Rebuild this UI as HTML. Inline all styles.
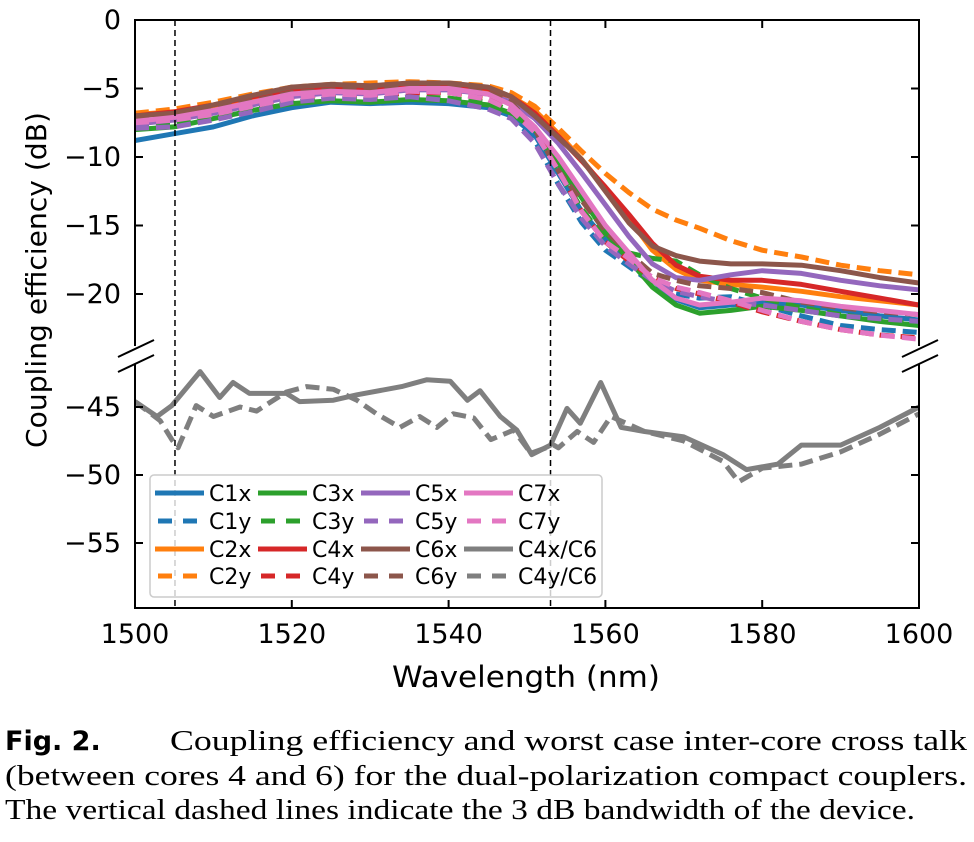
<!DOCTYPE html>
<html><head><meta charset="utf-8"><style>
html,body{margin:0;padding:0;background:#fff;}
svg{display:block;}
text{font-family:"DejaVu Sans","Liberation Sans",sans-serif;}
.cap{font-family:"Liberation Serif",serif;font-size:28px;}
</style></head><body>
<svg id="chart" width="974" height="842" viewBox="0 0 974 842" xmlns="http://www.w3.org/2000/svg">
<defs>
<clipPath id="clipTop"><rect x="135" y="20" width="784" height="326"/></clipPath>
<clipPath id="clipBot"><rect x="135" y="365" width="784" height="243"/></clipPath>
</defs>
<g id="gTop" clip-path="url(#clipTop)"></g>
<g id="gBot" clip-path="url(#clipBot)"></g>
<g id="axes"></g>
<g id="legend"></g>
<text x="526" y="687" font-size="29" text-anchor="middle" textLength="268" lengthAdjust="spacingAndGlyphs">Wavelength (nm)</text>
<text transform="translate(46,280) rotate(-90)" font-size="28" text-anchor="middle" textLength="336" lengthAdjust="spacingAndGlyphs">Coupling efficiency (dB)</text>
<g>
<text x="5" y="750" font-size="27" font-weight="bold" font-family="Liberation Sans, sans-serif">Fig. 2.</text>
<text class="cap" x="170" y="750" textLength="797" lengthAdjust="spacingAndGlyphs">Coupling efficiency and worst case inter-core cross talk</text>
<text class="cap" x="5" y="785" textLength="962" lengthAdjust="spacingAndGlyphs">(between cores 4 and 6) for the dual-polarization compact couplers.</text>
<text class="cap" x="5" y="819" textLength="910" lengthAdjust="spacingAndGlyphs">The vertical dashed lines indicate the 3 dB bandwidth of the device.</text>
</g>
</svg>
<script>
const wavelengths=[1500,1505,1510,1515,1520,1525,1530,1535,1540,1545,1548,1551,1554,1557,1560,1563,1566,1569,1572,1576,1580,1585,1590,1595,1600];
const c1x=[-8.8,-8.3,-7.8,-7.0,-6.4,-6.0,-6.1,-6.0,-6.1,-6.4,-7.0,-8.4,-11.2,-14.0,-16.0,-17.5,-19.0,-20.4,-21.0,-20.8,-20.6,-20.8,-21.2,-21.6,-21.9];
const c1y=[-7.6,-7.6,-7.2,-6.6,-6.0,-5.7,-5.9,-5.7,-5.8,-6.2,-7.0,-8.8,-12.0,-14.8,-16.8,-18.0,-19.2,-20.0,-20.3,-20.2,-20.8,-21.6,-22.3,-22.6,-22.8];
const c2x=[-6.9,-6.7,-6.3,-5.8,-5.3,-5.1,-5.2,-5.0,-4.9,-5.1,-5.6,-6.6,-8.3,-10.2,-12.3,-14.5,-16.8,-18.2,-19.0,-19.3,-19.5,-19.8,-20.2,-20.5,-20.8];
const c2y=[-6.8,-6.5,-6.0,-5.4,-4.9,-4.7,-4.6,-4.5,-4.6,-4.8,-5.3,-6.3,-7.9,-9.6,-11.2,-12.6,-13.8,-14.6,-15.2,-16.1,-16.8,-17.3,-17.9,-18.3,-18.6];
const c3x=[-8.0,-7.8,-7.2,-6.6,-6.1,-5.9,-6.0,-5.8,-5.9,-6.2,-6.8,-8.0,-10.5,-13.0,-15.5,-17.5,-19.5,-20.8,-21.4,-21.2,-20.9,-21.2,-21.6,-22.0,-22.3];
const c3y=[-7.8,-7.6,-7.0,-6.5,-6.0,-5.7,-5.8,-5.6,-5.7,-6.0,-6.6,-8.0,-11.0,-13.8,-16.0,-17.0,-17.4,-17.6,-18.6,-19.6,-20.3,-21.0,-21.5,-21.9,-22.2];
const c4x=[-7.0,-6.7,-6.2,-5.6,-5.1,-4.9,-5.0,-4.8,-4.7,-5.0,-5.6,-6.8,-8.5,-10.3,-12.2,-14.2,-16.3,-17.9,-18.7,-19.0,-19.0,-19.3,-19.8,-20.3,-20.8];
const c4y=[-7.3,-7.2,-6.8,-6.2,-5.7,-5.4,-5.5,-5.3,-5.3,-5.7,-6.4,-8.0,-11.0,-14.0,-16.2,-17.6,-18.8,-19.6,-20.0,-20.6,-21.3,-22.0,-22.6,-23.0,-23.2];
const c5x=[-7.6,-7.3,-6.8,-6.2,-5.6,-5.3,-5.4,-5.1,-5.1,-5.4,-6.0,-7.2,-9.0,-11.2,-13.5,-15.8,-17.8,-18.8,-19.0,-18.6,-18.3,-18.5,-19.0,-19.4,-19.7];
const c5y=[-7.9,-7.8,-7.3,-6.7,-6.0,-5.7,-5.8,-5.6,-5.9,-6.5,-7.2,-9.0,-12.0,-14.5,-16.5,-17.8,-19.0,-19.8,-20.2,-20.6,-20.8,-21.2,-21.6,-21.8,-22.0];
const c6x=[-7.0,-6.8,-6.2,-5.5,-4.9,-4.7,-4.8,-4.6,-4.6,-4.9,-5.6,-7.0,-8.6,-10.2,-12.5,-14.8,-16.5,-17.2,-17.6,-17.8,-17.8,-17.9,-18.3,-18.8,-19.2];
const c6y=[-7.2,-7.0,-6.5,-5.9,-5.3,-5.1,-5.1,-4.9,-4.9,-5.3,-6.0,-8.0,-11.0,-13.2,-15.4,-17.0,-18.5,-19.0,-19.4,-19.6,-19.9,-20.6,-21.0,-21.3,-21.5];
const c7x=[-7.4,-7.1,-6.6,-6.0,-5.4,-5.2,-5.3,-5.0,-5.0,-5.4,-6.2,-7.8,-10.0,-12.5,-15.0,-17.0,-19.0,-20.3,-20.8,-20.6,-20.3,-20.5,-20.9,-21.2,-21.5];
const c7y=[-7.5,-7.3,-6.9,-6.3,-5.7,-5.4,-5.5,-5.2,-5.3,-5.8,-6.6,-8.2,-11.0,-14.0,-16.2,-17.4,-18.8,-19.5,-19.9,-20.5,-21.2,-22.0,-22.6,-23.0,-23.3];
const xtWlSolid=[1500,1502.8,1504.7,1508.3,1510.8,1512.5,1514.6,1519.3,1521,1525.3,1528.3,1534,1537.2,1540.2,1542.4,1544,1546.6,1548.7,1550.6,1553,1555.1,1556.8,1559.4,1562,1565,1570,1575,1578,1582,1585,1590,1595,1600];
const xtC4xC6=[-44.6,-45.7,-44.9,-42.4,-44.3,-43.2,-44,-44,-44.6,-44.5,-44.1,-43.5,-43,-43.1,-44.5,-43.8,-45.7,-46.7,-48.5,-47.8,-45.1,-46.2,-43.2,-46.5,-46.8,-47.2,-48.5,-49.6,-49.2,-47.8,-47.8,-46.5,-45];
const xtWlDash=[1500,1503.2,1504.7,1505.5,1507.8,1510,1513.4,1515.5,1519.3,1521.9,1525.3,1528.3,1530.8,1533.8,1536.3,1538.5,1540.6,1543.2,1545.4,1548.3,1550.5,1553.4,1554,1556.4,1558.5,1560.7,1565,1570,1575,1577,1580,1585,1590,1595,1600];
const xtC4yC6=[-44.6,-46,-47.4,-48,-44.9,-45.7,-45,-45.3,-43.9,-43.5,-43.7,-44.5,-45.5,-46.5,-45.7,-46.5,-45.5,-45.8,-47.4,-46.7,-48.4,-47.8,-48,-46.8,-47.6,-45.7,-46.8,-47.5,-49,-50.5,-49.5,-49.2,-48.3,-47,-45.5];
const xTicks=[1500,1520,1540,1560,1580,1600];
const yTicksTop=[0,-5,-10,-15,-20];
const yTicksBot=[-45,-50,-55];
const bandEdges=[1505.1,1553];

const NS="http://www.w3.org/2000/svg";
const X=w=>135+(w-1500)*7.84;
const YT=v=>20-v*13.7;
const YB=v=>407-(v+45)*13.6;
function mk(tag,attrs,parent){const e=document.createElementNS(NS,tag);for(const k in attrs)e.setAttribute(k,attrs[k]);parent.appendChild(e);return e;}
const gTop=document.getElementById('gTop'),gBot=document.getElementById('gBot'),axes=document.getElementById('axes'),leg=document.getElementById('legend');
const DASH="14 7";
const LW=5;
const series=[
 ['C1x',c1x,'#1f77b4',false],['C1y',c1y,'#1f77b4',true],['C2x',c2x,'#ff7f0e',false],['C2y',c2y,'#ff7f0e',true],
 ['C3x',c3x,'#2ca02c',false],['C3y',c3y,'#2ca02c',true],['C4x',c4x,'#d62728',false],['C4y',c4y,'#d62728',true],
 ['C5x',c5x,'#9467bd',false],['C5y',c5y,'#9467bd',true],['C6x',c6x,'#8c564b',false],['C6y',c6y,'#8c564b',true],
 ['C7x',c7x,'#e377c2',false],['C7y',c7y,'#e377c2',true]];
series.forEach(s=>{
 const d=s[1].map((v,i)=>(i?'L':'M')+X(wavelengths[i]).toFixed(1)+','+YT(v).toFixed(1)).join('');
 const p=mk('path',{d:d,fill:'none',stroke:s[2],'stroke-width':LW,'stroke-linejoin':'round'},gTop);
 if(s[3])p.setAttribute('stroke-dasharray',DASH);
 
 
});
function xtPath(wl,vals){return vals.map((v,i)=>(i?'L':'M')+X(wl[i]).toFixed(1)+','+YB(v).toFixed(1)).join('');}
const ps=mk('path',{d:xtPath(xtWlSolid,xtC4xC6),fill:'none',stroke:'#7f7f7f','stroke-width':LW,'stroke-linejoin':'round'},gBot);


const pd=mk('path',{d:xtPath(xtWlDash,xtC4yC6),fill:'none',stroke:'#7f7f7f','stroke-width':LW,'stroke-dasharray':DASH,'stroke-linejoin':'round'},gBot);


bandEdges.forEach((b,i)=>{
 const l=mk('line',{x1:X(b),x2:X(b),y1:20,y2:608,stroke:'#000','stroke-width':1.5,'stroke-dasharray':'6 4'},axes);
 
 
});
const sp={stroke:'#000','stroke-width':2,fill:'none'};
mk('path',Object.assign({d:'M135,346 L135,20 L919,20 L919,346'},sp),axes);
mk('path',Object.assign({d:'M135,364 L135,608 L919,608 L919,364'},sp),axes);
[135,919].forEach(x=>{
 mk('line',{x1:x-17,y1:357,x2:x+19,y2:340,stroke:'#000','stroke-width':2},axes);
 mk('line',{x1:x-17,y1:372,x2:x+19,y2:355,stroke:'#000','stroke-width':2},axes);
});
xTicks.forEach(t=>{
 const x=X(t);
 mk('line',{x1:x,x2:x,y1:608,y2:600,stroke:'#000','stroke-width':2},axes);
 mk('line',{x1:x,x2:x,y1:20,y2:28,stroke:'#000','stroke-width':2},axes);
 const tx=mk('text',{x:x,y:643,'font-size':27,'text-anchor':'middle'},axes);tx.textContent=t;
 
 
});
function ylab(v,y){
 mk('line',{x1:135,x2:143,y1:y,y2:y,stroke:'#000','stroke-width':2},axes);
 mk('line',{x1:919,x2:911,y1:y,y2:y,stroke:'#000','stroke-width':2},axes);
 const tx=mk('text',{x:121,y:y+9,'font-size':27,'text-anchor':'end'},axes);
 tx.textContent=v===0?'0':'\u2212'+Math.abs(v);
 
 
}
yTicksTop.forEach(v=>ylab(v,YT(v)));
yTicksBot.forEach(v=>ylab(v,YB(v)));
const lb=mk('rect',{x:150,y:475,width:452,height:122,rx:4,fill:'#fff','fill-opacity':0.8,stroke:'#ccc','stroke-width':1.5},leg);


const legItems=[['C1x','#1f77b4',0],['C1y','#1f77b4',1],['C2x','#ff7f0e',0],['C2y','#ff7f0e',1],
 ['C3x','#2ca02c',0],['C3y','#2ca02c',1],['C4x','#d62728',0],['C4y','#d62728',1],
 ['C5x','#9467bd',0],['C5y','#9467bd',1],['C6x','#8c564b',0],['C6y','#8c564b',1],
 ['C7x','#e377c2',0],['C7y','#e377c2',1],['C4x/C6','#7f7f7f',0],['C4y/C6','#7f7f7f',1]];
const colX=[155,258,361,464],rowY=[493,521,549,576];
legItems.forEach((it,i)=>{
 const c=Math.floor(i/4),r=i%4;
 const g=mk('g',{},leg);
 
 
 const ln=mk('line',{x1:colX[c]+(it[2]?3:0),x2:colX[c]+49,y1:rowY[r],y2:rowY[r],stroke:it[1],'stroke-width':LW},g);
 if(it[2])ln.setAttribute('stroke-dasharray','14 11');
 const t=mk('text',{x:colX[c]+54,y:rowY[r]+8,'font-size':22},g);t.textContent=it[0];
});
</script>
</body></html>
